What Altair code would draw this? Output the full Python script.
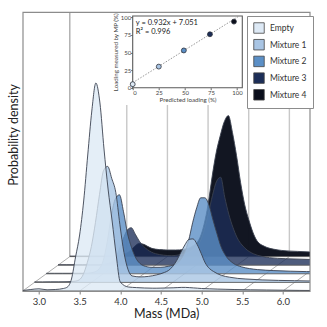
import altair as alt
import pandas as pd

# ---------------- data ----------------
mass = [2.8, 2.9, 3.0, 3.1, 3.2, 3.3, 3.35, 3.4, 3.45, 3.5, 3.55, 3.6, 3.65, 3.7, 3.75,
        3.8, 3.85, 3.9, 3.95, 4.0, 4.1, 4.2, 4.3, 4.4, 4.45, 4.5, 4.55, 4.6, 4.65, 4.7,
        4.75, 4.8, 4.85, 4.9, 4.95, 5.0, 5.1, 5.2, 5.3, 5.4, 5.6, 5.8, 6.0, 6.2, 6.4]

series_names = ["Empty", "Mixture 1", "Mixture 2", "Mixture 3", "Mixture 4"]
series_colors = ["#dde9f5", "#a9c5e4", "#5b8fc6", "#1c2e58", "#0a0e1b"]

density_empty = [0.5, 1.5, 2.2, 1.2, 1.5, 2.5,
                 4, 12, 34, 56, 90, 136, 180, 208, 188, 142, 102, 70, 36, 9,
                 4, 3.4, 3, 2.8,
                 2.8, 2.9, 3, 3.1, 3.2, 3.4, 3.6, 3.6, 3.4, 3.1, 2.8, 2.5,
                 2.2, 1.9, 1.7, 1.5,
                 1.2, 1.0, 0.8, 0.6, 0.5]
density_mix1 = [0.5, 0.5, 0.6, 0.6, 0.7, 1.2,
                2.5, 8, 20, 36, 60, 88, 112, 116, 104, 90, 58, 30, 13, 6.5,
                5.5, 6, 7.5, 10,
                12, 16, 22, 30, 37.5, 43, 43.5, 38, 29, 19.5, 14, 11,
                7, 5.2, 4, 3.4,
                2.5, 2, 1.7, 1.4, 1.2]
density_mix2 = [0.5, 0.5, 0.5, 0.5, 0.5, 0.5,
                1, 2, 5, 13, 32, 58, 75, 79, 62, 40, 26, 16, 10.5, 8,
                6.5, 6.5, 7.5, 10,
                14, 21, 33, 51, 66, 76, 76, 69, 54, 40, 27, 19,
                10.5, 7, 5.2, 4.2,
                3.2, 2.6, 2.2, 1.9, 1.7]
density_mix3 = [0.5, 0.5, 0.5, 0.5, 0.5, 0.5,
                0.8, 1.5, 3, 7, 15, 26, 35, 37.5, 31, 24, 19, 15.5, 13, 11.5,
                10, 9.5, 10.5, 12.5,
                15, 18.5, 24, 36, 52, 70, 84, 88, 68, 51, 38, 28,
                17, 11.5, 9, 7.5,
                6.5, 6, 5.5, 5, 4.8]
density_mix4 = [0.5, 0.5, 0.5, 0.5, 0.5, 0.5,
                0.8, 1.2, 2, 3.5, 6.5, 10.5, 13, 12.5, 10.5, 8.5, 7.5, 7, 6.8, 6.6,
                6.6, 7.2, 10, 19,
                32, 52, 80, 104, 121, 135, 141, 124, 101, 74, 52, 37,
                16, 10, 7.5, 6.2,
                5.2, 4.5, 4, 3.6, 3.3]
densities = [density_empty, density_mix1, density_mix2, density_mix3, density_mix4]

x_ticks = [3.0, 3.5, 4.0, 4.5, 5.0, 5.5, 6.0]
grid_ticks = [3.5, 4.0, 4.5, 5.0, 5.5, 6.0]

predicted_loading = [0, 25, 49, 74, 97]
measured_loading = [5, 30, 53, 76, 94]
fit_x = [0, 102]
fit_y = [7.051, 102.1]
inset_ticks = [0, 25, 50, 75, 100]
equation_lines = ["y = 0.932x + 7.051", "R² = 0.996"]

# ---------------- geometry of the pseudo-3D ----------------
X_MIN, X_MAX = 2.8, 6.33
Y_MAX = 279
SX = 0.145      # mass shift per series step
SY = 8.6        # density shift per series step
WALL_TOP = 186
N = len(series_names)
opacities = [0.78, 0.8, 0.8, 0.78, 0.97]

rows = []
for k, (name, dens) in enumerate(zip(series_names, densities)):
    for m, d in zip(mass, dens):
        rows.append({"series": name, "k": k, "mass": m, "density": d})
curves = pd.DataFrame(rows)

FONT = "Lato"
XS = alt.Scale(domain=[X_MIN, X_MAX], nice=False, zero=False)
YS = alt.Scale(domain=[0, Y_MAX], nice=False)
XAX = alt.Axis(values=x_ticks, format=".1f", domain=False, grid=False, tickSize=3,
               tickColor="#808080", labelFontSize=9.5, labelColor="#333333", labelPadding=2,
               labelFont=FONT, title="Mass (MDa)", titleFont=FONT, titleFontSize=12.5,
               titleFontWeight="normal", titleColor="#222222", titlePadding=1.5)
YAX = alt.Axis(domain=False, grid=False, ticks=False, labels=False,
               title="Probability density", titleFont=FONT, titleFontSize=12.5,
               titleFontWeight="normal", titleColor="#222222", titleAngle=270,
               titleX=-9.5, titleY=122.5, titleBaseline="middle", titleAlign="center")


def mx(f):
    return alt.X(f, type="quantitative", scale=XS, axis=XAX)


def my(f):
    return alt.Y(f, type="quantitative", scale=YS, axis=YAX)


color_enc = alt.Color(
    "series:N",
    scale=alt.Scale(domain=series_names, range=series_colors),
    legend=alt.Legend(orient="none", legendX=224.3, legendY=4, direction="vertical",
                      title=None, padding=6, strokeColor="#8c8c8c", fillColor="white",
                      symbolType="square", symbolSize=110, symbolStrokeColor="#444444",
                      symbolStrokeWidth=0.8, symbolOpacity=1, labelFont=FONT,
                      labelFontSize=8.5, labelColor="#333333", labelOffset=5,
                      rowPadding=2.7),
)

layers = []

# back wall vertical grid lines
wall = alt.Chart(pd.DataFrame({"t": grid_ticks})).transform_calculate(
    xw=f"datum.t + {4 * SX}", yb=f"{4 * SY}", yt=f"{WALL_TOP}"
).mark_rule(color="#c8c8c8", strokeWidth=1.4, clip=True).encode(
    x=mx("xw"), y=my("yb"), y2="yt:Q")
layers.append(wall)

corner = alt.Chart(pd.DataFrame({"t": [X_MIN]})).transform_calculate(
    xw=f"datum.t + {4 * SX}", yb=f"{4 * SY}", yt=f"{Y_MAX}"
).mark_rule(color="#8c8c8c", strokeWidth=1, clip=True).encode(
    x=mx("xw"), y=my("yb"), y2="yt:Q")
layers.append(corner)

# floor diagonals
diag = alt.Chart(pd.DataFrame({"t": [X_MIN] + grid_ticks})).transform_calculate(
    x1=f"datum.t + {4 * SX}", y0="0", y1=f"{4 * SY}"
).mark_rule(color="#9a9a9a", strokeWidth=0.8, clip=True).encode(
    x=mx("t"), x2="x1:Q", y=my("y0"), y2="y1:Q")
layers.append(diag)

# ridges, back to front
for k in range(N - 1, -1, -1):
    base = alt.Chart(curves).transform_filter(f"datum.k == {k}").transform_calculate(
        xs=f"datum.mass + datum.k * {SX}",
        y0=f"datum.k * {SY}",
        y1=f"datum.k * {SY} + datum.density",
    )
    area = base.mark_area(interpolate="monotone", fillOpacity=opacities[k], clip=True).encode(
        x=mx("xs"), y=my("y1"), y2="y0:Q", color=color_enc)
    line = base.mark_line(interpolate="monotone", color="#3b4250", strokeWidth=0.9,
                          clip=True).encode(x=mx("xs"), y=my("y1"))
    baseline = alt.Chart(pd.DataFrame({"k": [k]})).transform_calculate(
        x0=f"{X_MIN} + datum.k * {SX}", x1=f"{mass[-1]} + datum.k * {SX}",
        y0=f"datum.k * {SY}"
    ).mark_rule(color="#5a5a5a", strokeWidth=0.9, clip=True).encode(
        x=mx("x0"), x2="x1:Q", y=my("y0"))
    layers += [area, line, baseline]

main = alt.layer(*layers)

# ---------------- inset ----------------
IXS = alt.Scale(domain=[0, 105], range=[110, 219.6], nice=False, zero=False)
IYS = alt.Scale(domain=[0, 102], range=[75.7, 4], nice=False, zero=False)
IXAX = alt.Axis(orient="bottom", offset=-203.3, values=inset_ticks, domain=False, grid=False,
                tickSize=2, tickColor="#666666", labelFont=FONT, labelFontSize=6,
                labelColor="#444444", labelPadding=0, title="Predicted loading (%)",
                titleFont=FONT, titleFontSize=6.2, titleFontWeight="normal",
                titleColor="#444444", titlePadding=0.5)
IYAX = alt.Axis(orient="left", offset=-110, values=inset_ticks, domain=False, grid=False,
                tickSize=2, tickColor="#666666", labelFont=FONT, labelFontSize=6,
                labelColor="#444444", labelPadding=0, title="Loading measured by MP (%)",
                titleFont=FONT, titleFontSize=6.2, titleFontWeight="normal",
                titleColor="#444444", titlePadding=2)


def ix(f):
    return alt.X(f, type="quantitative", scale=IXS, axis=IXAX)


def iy(f):
    return alt.Y(f, type="quantitative", scale=IYS, axis=IYAX)


frame = alt.Chart(pd.DataFrame({"a": [0], "b": [105], "c": [0], "d": [102]})).mark_rect(
    fill="white", stroke="#5a5a5a", strokeWidth=1.1).encode(
    x=ix("a"), x2="b:Q", y=iy("c"), y2="d:Q")

fit = alt.Chart(pd.DataFrame({"a": fit_x, "c": fit_y})).mark_line(
    color="#8a8a8a", strokeWidth=0.9, strokeDash=[1.5, 1.5]).encode(x=ix("a"), y=iy("c"))

pts = alt.Chart(pd.DataFrame({"a": predicted_loading, "c": measured_loading,
                              "series": series_names})).mark_point(
    filled=True, size=24, stroke="#2a2f3a", strokeWidth=0.8, opacity=1).encode(
    x=ix("a"), y=iy("c"), color=color_enc)

eq = alt.Chart(pd.DataFrame({"a": [3, 3], "c": [92, 79.5], "txt": equation_lines})).mark_text(
    align="left", baseline="middle", font=FONT, fontSize=7.5, color="#222222").encode(
    x=ix("a"), y=iy("c"), text="txt:N")

inset = alt.layer(frame, fit, pts, eq)

chart = alt.layer(main, inset).resolve_scale(x="independent", y="independent").properties(
    width=287, height=279,
    autosize=alt.AutoSizeParams(type="none"),
    padding={"left": 22.7, "top": 12, "right": 17.3, "bottom": 36},
).configure(font=FONT).configure_view(stroke="#8c8c8c", strokeWidth=1.2)

chart.save("out.html", embed_options={"renderer": "svg", "actions": False})
